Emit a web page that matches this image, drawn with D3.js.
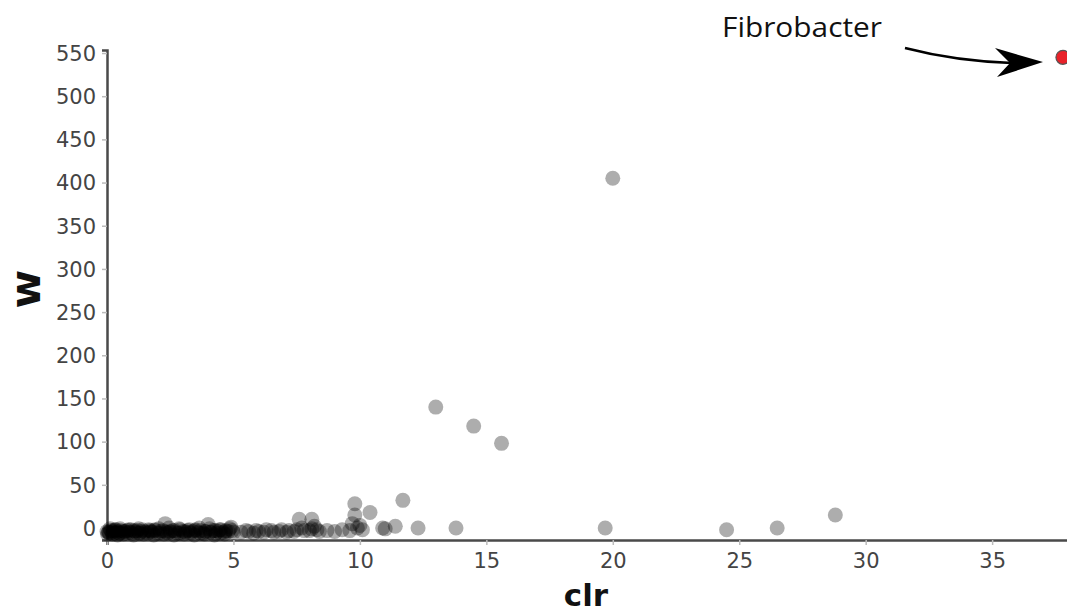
<!DOCTYPE html>
<html><head><meta charset="utf-8">
<script src="https://cdn.jsdelivr.net/npm/d3@7"></script>
<style>body{margin:0;background:#fff}svg{display:block}</style>
</head><body>
<svg id="c" width="1067" height="616"></svg>
<script>
const clrValues = [
 0.0,0.05,0.1,0.15,0.2,0.25,0.3,0.35,0.4,0.45,0.5,0.55,0.6,0.7,0.75,0.8,0.9,0.95,1.0,1.1,1.15,1.2,1.3,1.35,1.4,1.5,1.6,1.7,1.75,1.8,1.9,2.0,2.1,2.2,2.3,2.35,2.4,2.5,2.6,2.7,2.8,2.9,3.0,3.1,3.2,3.3,3.4,3.5,3.6,3.7,3.8,3.9,4.0,4.1,4.2,4.3,4.4,4.5,4.6,4.7,4.8,4.9,5.0,
 0.02,0.12,0.22,0.32,0.42,0.52,0.65,0.85,1.05,1.25,1.45,1.65,1.85,2.05,2.25,2.45,2.65,2.85,3.05,3.25,3.45,3.65,3.85,4.05,4.25,4.45,4.65,4.85,
 0.08,0.28,0.48,0.68,0.88,1.08,1.28,1.48,1.68,1.88,2.08,2.28,2.48,2.68,2.88,3.08,3.28,3.48,3.68,3.88,4.08,4.28,4.48,4.68,4.95,
 5.3,5.5,5.6,5.8,5.9,6.0,6.2,6.3,6.5,6.6,6.8,6.9,7.1,7.2,7.4,7.5,7.6,7.7,7.8,8.0,8.1,8.1,8.2,8.3,8.4,8.7,9.0,9.3,9.6,9.7,9.8,9.8,9.9,10.0,10.1,10.4,10.9,11.0,11.4,11.7,12.3,13.0,13.8,14.5,15.6,19.7,20.0,24.5,26.5,28.8
];
const wValues = [
 -4,-5,-6,-3,-5,-4,-6,-2,-5,-4,-6,-3,-5,-4,-6,-3,-5,-2,-6,-4,-5,-3,-6,-4,-2,-5,-6,-3,-4,-5,-2,-6,-4,-3,5,-5,-6,-4,-3,-5,-6,-2,-4,-5,-3,-6,-4,-2,-5,-3,-6,-4,4,-5,-3,-6,-4,-2,-5,-3,-4,1,-5,
 -7,-1,-7,-2,-8,-1,-7,-2,-8,-1,-7,-2,-8,-1,-7,0,-8,-1,-7,-2,-8,0,-7,-1,-8,-2,-7,-1,
 -5,-3,-6,-4,-5,-3,-6,-4,-5,-3,-6,-4,-5,-3,-6,-4,-5,-3,-6,-4,-5,-3,-6,-4,-3,
 -5,-3,-4,-6,-3,-4,-5,-2,-3,-5,-4,-2,-5,-3,-4,-2,10,0,-3,-3,10,-1,2,-2,-4,-3,-4,-2,-3,5,28,15,0,3,-2,18,0,-1,2,32,0,140,0,118,98,0,405,-2,0,15
];
const xTicks = [0,5,10,15,20,25,30,35];
const yTicks = [0,50,100,150,200,250,300,350,400,450,500,550];
const highlightLabel = "Fibrobacter";
const highlightClr = [37.8];
const highlightW = [545];

const svg = d3.select("#c");
const x = d3.scaleLinear().domain([0, 38]).range([107, 1068]);
const y = d3.scaleLinear().domain([-13.9, 553.5]).range([540, 50]);
const tickFont = "DejaVu Sans, Verdana, sans-serif";

// axes
const xAxis = svg.append("g").attr("transform", "translate(0,540)")
  .call(d3.axisBottom(x).tickValues(xTicks).tickSize(5).tickPadding(8));
const yAxis = svg.append("g").attr("transform", "translate(107,0)")
  .call(d3.axisLeft(y).tickValues(yTicks).tickSize(5).tickPadding(6));
[xAxis, yAxis].forEach(g => {
  g.select(".domain").attr("stroke", "#4a4a4a").attr("stroke-width", 2.5);
  g.selectAll(".tick line").attr("stroke", "#bbb").attr("stroke-width", 1.5);
  g.selectAll(".tick text").attr("fill", "#444").style("font-family", tickFont).style("font-size", "21px");
});
yAxis.selectAll(".tick text").attr("dy", "0.35em");

// points
const pts = clrValues.map((c, i) => ({c, w: wValues[i]}));
svg.append("g").selectAll("circle").data(pts).join("circle")
  .attr("cx", d => x(d.c)).attr("cy", d => y(d.w)).attr("r", 7.5)
  .attr("fill", "#000").attr("fill-opacity", 0.32);

// highlight
svg.append("g").selectAll("circle").data(highlightClr.map((c, i) => ({c, w: highlightW[i]}))).join("circle")
  .attr("cx", d => x(d.c)).attr("cy", d => y(d.w)).attr("r", 7)
  .attr("fill", "#e8222a").attr("stroke", "#555").attr("stroke-width", 1.2);

// axis titles
svg.append("text").attr("x", 586).attr("y", 606).attr("text-anchor", "middle")
  .style("font-family", tickFont).style("font-weight", "bold").style("font-size", "31px").attr("fill", "#111").text("clr");
svg.append("text").attr("transform", "translate(40,289) rotate(-90)").attr("text-anchor", "middle")
  .style("font-family", tickFont).style("font-weight", "bold").style("font-size", "42px").attr("fill", "#111").text("w");

// annotation
svg.append("text").attr("x", 722).attr("y", 37).attr("textLength", 160).attr("lengthAdjust", "spacingAndGlyphs")
  .style("font-family", "Open Sans, sans-serif").style("font-size", "27px").attr("fill", "#111").text(highlightLabel);
svg.append("path").attr("d", "M905,48 Q955,61 1012,63").attr("fill", "none").attr("stroke", "#000").attr("stroke-width", 2.5);
svg.append("path").attr("d", "M1043,62 L995,48 L1010,63 L997,77 Z").attr("fill", "#000");
</script>
</body></html>
